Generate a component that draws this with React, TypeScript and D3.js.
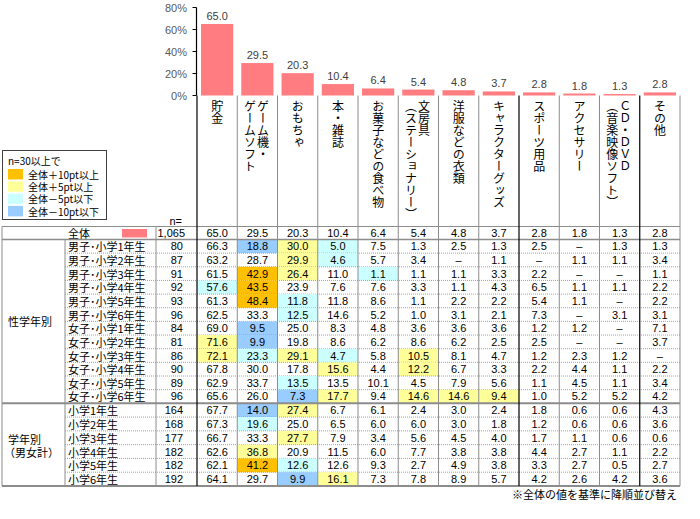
import React from "react";
import * as d3 from "d3";

const categories = [
  "貯金",
  "ゲーム機・\nゲームソフト",
  "おもちゃ",
  "本・雑誌",
  "お菓子などの食べ物",
  "文房具\n（ステーショナリー）",
  "洋服などの衣類",
  "キャラクターグッズ",
  "スポーツ用品",
  "アクセサリー",
  "ＣＤ・ＤＶＤ\n（音楽映像ソフト）",
  "その他",
];

const totalValues = [65.0, 29.5, 20.3, 10.4, 6.4, 5.4, 4.8, 3.7, 2.8, 1.8, 1.3, 2.8];
const totalN = 1065;
const yTicks = [0, 20, 40, 60, 80];

const genderRows = [
  "男子･小学1年生", "男子･小学2年生", "男子･小学3年生", "男子･小学4年生", "男子･小学5年生", "男子･小学6年生",
  "女子･小学1年生", "女子･小学2年生", "女子･小学3年生", "女子･小学4年生", "女子･小学5年生", "女子･小学6年生",
];
const genderN = [80, 87, 91, 92, 93, 96, 84, 81, 86, 90, 89, 96];
const genderValues: (number | null)[][] = [
  [66.3, 18.8, 30.0, 5.0, 7.5, 1.3, 2.5, 1.3, 2.5, null, 1.3, 1.3],
  [63.2, 28.7, 29.9, 4.6, 5.7, 3.4, null, 1.1, null, 1.1, 1.1, 3.4],
  [61.5, 42.9, 26.4, 11.0, 1.1, 1.1, 1.1, 3.3, 2.2, null, null, 1.1],
  [57.6, 43.5, 23.9, 7.6, 7.6, 3.3, 1.1, 4.3, 6.5, 1.1, 1.1, 2.2],
  [61.3, 48.4, 11.8, 11.8, 8.6, 1.1, 2.2, 2.2, 5.4, 1.1, null, 2.2],
  [62.5, 33.3, 12.5, 14.6, 5.2, 1.0, 3.1, 2.1, 7.3, null, 3.1, 3.1],
  [69.0, 9.5, 25.0, 8.3, 4.8, 3.6, 3.6, 3.6, 1.2, 1.2, null, 7.1],
  [71.6, 9.9, 19.8, 8.6, 6.2, 8.6, 6.2, 2.5, 2.5, null, null, 3.7],
  [72.1, 23.3, 29.1, 4.7, 5.8, 10.5, 8.1, 4.7, 1.2, 2.3, 1.2, null],
  [67.8, 30.0, 17.8, 15.6, 4.4, 12.2, 6.7, 3.3, 2.2, 4.4, 1.1, 2.2],
  [62.9, 33.7, 13.5, 13.5, 10.1, 4.5, 7.9, 5.6, 1.1, 4.5, 1.1, 3.4],
  [65.6, 26.0, 7.3, 17.7, 9.4, 14.6, 14.6, 9.4, 1.0, 5.2, 5.2, 4.2],
];

const gradeRows = ["小学1年生", "小学2年生", "小学3年生", "小学4年生", "小学5年生", "小学6年生"];
const gradeN = [164, 168, 177, 182, 182, 192];
const gradeValues: (number | null)[][] = [
  [67.7, 14.0, 27.4, 6.7, 6.1, 2.4, 3.0, 2.4, 1.8, 0.6, 0.6, 4.3],
  [67.3, 19.6, 25.0, 6.5, 6.0, 6.0, 3.0, 1.8, 1.2, 0.6, 0.6, 3.6],
  [66.7, 33.3, 27.7, 7.9, 3.4, 5.6, 4.5, 4.0, 1.7, 1.1, 0.6, 0.6],
  [62.6, 36.8, 20.9, 11.5, 6.0, 7.7, 3.8, 3.8, 4.4, 2.7, 1.1, 2.2],
  [62.1, 41.2, 12.6, 12.6, 9.3, 2.7, 4.9, 3.8, 3.3, 2.7, 0.5, 2.7],
  [64.1, 29.7, 9.9, 16.1, 7.3, 7.8, 8.9, 5.7, 4.2, 2.6, 4.2, 3.6],
];

const legendItems = ["全体＋10pt以上", "全体＋5pt以上", "全体－5pt以下", "全体－10pt以下"];
const legendColors = ["#FFC000", "#FFFF99", "#CCFFFF", "#99CCFF"];

const FONT = "'Noto Sans CJK JP', 'Noto Sans', sans-serif";
const NUMFONT = "'Liberation Sans', Arial, sans-serif";
const BAR = "#FF7C80";
const GRID = "#8c8c8c";

function cellColor(v: number | null, base: number): string | null {
  if (v == null) return null;
  const d = Math.round((v - base) * 10) / 10;
  if (d >= 10) return legendColors[0];
  if (d >= 5) return legendColors[1];
  if (d <= -10) return legendColors[3];
  if (d <= -5) return legendColors[2];
  return null;
}

export default function App() {
  const W = 700, H = 519;
  const left = 197, right = 680;
  const x = d3.scaleBand<string>().domain(categories).range([left, right]).paddingInner(0.2).paddingOuter(0.1);
  const step = x.step();
  const colLeft = (c: string) => (x(c) as number) - step * 0.1;
  const colCenter = (c: string) => (x(c) as number) + x.bandwidth() / 2;
  const y = d3.scaleLinear().domain([0, 80]).range([95.5, 7.5]);

  const tableTop = 226.5;
  const totalBottom = 239.5;
  const groupSplit = 403.3;
  const tableBottom = 486;
  const yG = d3.scaleBand<string>().domain(genderRows).range([totalBottom, groupSplit]);
  const yR = d3.scaleBand<string>().domain(gradeRows).range([groupSplit, tableBottom]);
  const fmt = d3.format(".1f");
  const fmtN = d3.format(",");

  const boundaries = categories.map((c) => colLeft(c)).concat([right]);
  const darkIdx = new Set([0, 8, 11]);

  const renderRows = (
    rows: string[],
    ns: number[],
    vals: (number | null)[][],
    ys: d3.ScaleBand<string>
  ) =>
    rows.map((r, i) => {
      const y0 = ys(r) as number;
      const h = ys.bandwidth();
      const cy = y0 + h / 2;
      return (
        <g key={r}>
          {vals[i].map((v, j) => {
            const col = cellColor(v, totalValues[j]);
            return col ? (
              <rect key={"b" + j} x={colLeft(categories[j])} y={y0} width={step} height={h} fill={col} />
            ) : null;
          })}
          <text x={68} y={cy} dominantBaseline="central" fontSize={11}>{r}</text>
          <text x={183} y={cy} dominantBaseline="central" fontSize={11} textAnchor="end" fontFamily={NUMFONT}>{fmtN(ns[i])}</text>
          {vals[i].map((v, j) => (
            <text key={"t" + j} x={colCenter(categories[j])} y={cy} dominantBaseline="central" fontSize={11} textAnchor="middle" fontFamily={NUMFONT}>
              {v == null ? "–" : fmt(v)}
            </text>
          ))}
          {i < rows.length - 1 ? (
            <line x1={65} x2={right} y1={y0 + h} y2={y0 + h} stroke={GRID} strokeWidth={0.8} strokeDasharray="1,1" />
          ) : null}
        </g>
      );
    });

  return (
    <svg width={W} height={H} style={{ position: "absolute", left: 0, top: 0, background: "#fff" }} fontFamily={FONT}>
      <rect x={0} y={0} width={W} height={H} fill="#fff" />
      {/* bars */}
      {categories.map((c, i) => (
        <g key={c}>
          <rect x={x(c)} y={y(totalValues[i])} width={x.bandwidth()} height={y(0) - y(totalValues[i])} fill={BAR} />
          <text x={colCenter(c)} y={y(totalValues[i]) - 4} textAnchor="middle" fontSize={11} fill="#404040" fontFamily={NUMFONT}>
            {fmt(totalValues[i])}
          </text>
        </g>
      ))}
      {/* y axis */}
      <line x1={196.5} x2={196.5} y1={y(80)} y2={y(0)} stroke="#000" strokeWidth={1.2} />
      {yTicks.map((t) => (
        <g key={t}>
          <line x1={192.5} x2={196.5} y1={y(t)} y2={y(t)} stroke="#000" />
          <text x={187} y={y(t)} textAnchor="end" dominantBaseline="central" fontSize={11} fill="#595959" fontFamily={NUMFONT}>
            {t}%
          </text>
        </g>
      ))}
      {/* header labels */}
      {categories.map((c) => {
        const lines = c.split("\n");
        const cx = colCenter(c);
        return lines.map((ln, k) => {
          const lx = lines.length === 1 ? cx : cx - 1 + (k === 0 ? 6.5 : -6.5);
          return (
            <text key={c + k} x={lx} y={100} fontSize={12} style={{ writingMode: "vertical-rl" } as any} fill="#000">
              {ln}
            </text>
          );
        });
      })}
      {/* legend */}
      <rect x={2.5} y={150.5} width={104} height={69} fill="#fff" stroke="#404040" />
      <text x={8} y={160.5} dominantBaseline="central" fontSize={10}>n=30以上で</text>
      {legendItems.map((t, i) => (
        <g key={t}>
          <rect x={8} y={169 + i * 12.3} width={15} height={10.5} fill={legendColors[i]} />
          <text x={28} y={174.3 + i * 12.3} dominantBaseline="central" fontSize={10}>{t}</text>
        </g>
      ))}
      <text x={182} y={220.5} textAnchor="end" dominantBaseline="central" fontSize={11} fontFamily={NUMFONT}>n=</text>
      {/* total row */}
      <text x={79} y={233} textAnchor="middle" dominantBaseline="central" fontSize={11}>全体</text>
      <rect x={122} y={229} width={25} height={8.5} fill={BAR} />
      <text x={185} y={233} textAnchor="end" dominantBaseline="central" fontSize={11} fontFamily={NUMFONT}>{fmtN(totalN)}</text>
      {categories.map((c, j) => (
        <text key={"tot" + j} x={colCenter(c)} y={233} textAnchor="middle" dominantBaseline="central" fontSize={11} fontFamily={NUMFONT}>
          {fmt(totalValues[j])}
        </text>
      ))}
      {renderRows(genderRows, genderN, genderValues, yG)}
      {renderRows(gradeRows, gradeN, gradeValues, yR)}
      {/* group labels */}
      <text x={8} y={(totalBottom + groupSplit) / 2} dominantBaseline="central" fontSize={11}>性学年別</text>
      <text x={8} y={438.5} dominantBaseline="central" fontSize={11}>学年別</text>
      <text x={4} y={451.5} dominantBaseline="central" fontSize={11}>（男女計）</text>
      {/* table lines */}
      <line x1={2} x2={right} y1={tableTop} y2={tableTop} stroke={GRID} />
      <line x1={2} x2={right} y1={totalBottom} y2={totalBottom} stroke={GRID} strokeWidth={1.5} />
      <line x1={2} x2={right} y1={groupSplit} y2={groupSplit} stroke={GRID} strokeWidth={2} />
      <line x1={2} x2={right} y1={tableBottom} y2={tableBottom} stroke={GRID} strokeWidth={2} />
      <line x1={2} x2={2} y1={tableTop} y2={tableBottom} stroke={GRID} />
      <line x1={65} x2={65} y1={totalBottom} y2={tableBottom} stroke={GRID} />
      <line x1={156} x2={156} y1={tableTop} y2={tableBottom} stroke={GRID} />
      {boundaries.map((bx, i) => (
        <line
          key={"v" + i}
          x1={bx}
          x2={bx}
          y1={y(0)}
          y2={tableBottom}
          stroke={darkIdx.has(i) ? "#000" : GRID}
          strokeWidth={darkIdx.has(i) ? 1.2 : 1}
        />
      ))}
      <text x={677} y={494} textAnchor="end" dominantBaseline="central" fontSize={11}>
        ※全体の値を基準に降順並び替え
      </text>
    </svg>
  );
}
